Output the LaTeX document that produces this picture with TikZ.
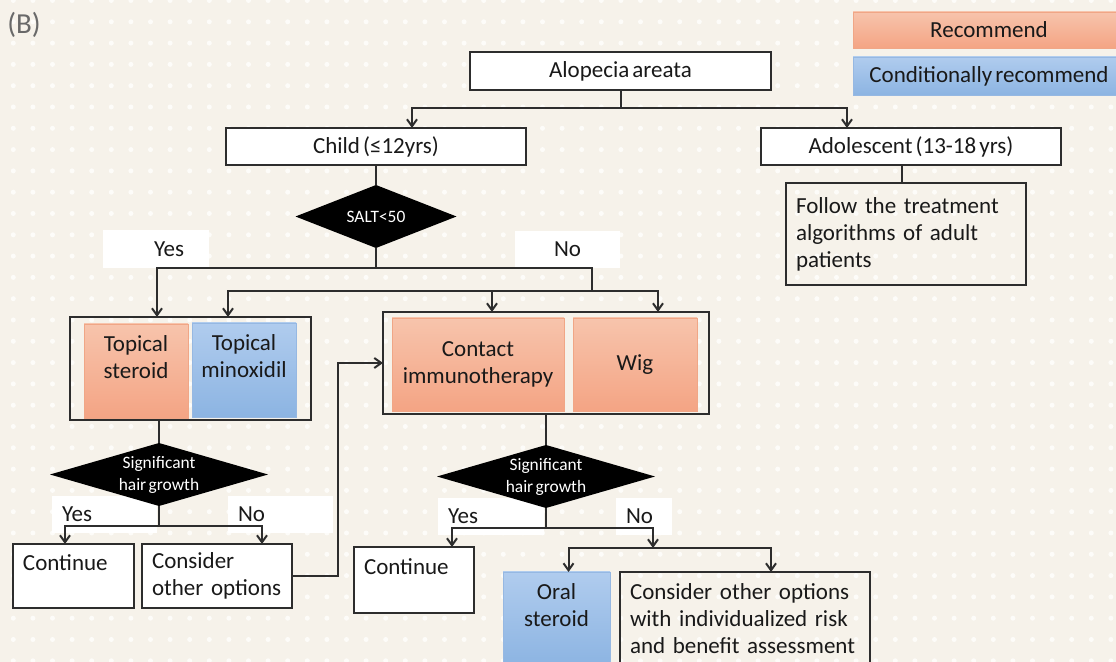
\documentclass[tikz,border=0pt]{standalone}
\usepackage{fontspec}
\setmainfont{Carlito}[WordSpace=0.6]
\usepackage{tikz}
\usetikzlibrary{calc, arrows.meta}

\definecolor{bgCream}{RGB}{246,242,234}
\definecolor{dotWhite}{RGB}{253,252,249}
\definecolor{lineGray}{RGB}{45,45,45}
\definecolor{textDark}{RGB}{25,25,25}
\definecolor{recTop}{RGB}{247,196,172}
\definecolor{recBottom}{RGB}{244,164,132}
\definecolor{recEdge}{RGB}{240,166,134}
\definecolor{condTop}{RGB}{176,204,238}
\definecolor{condBottom}{RGB}{140,180,226}
\definecolor{condEdge}{RGB}{150,184,226}
\definecolor{labelGray}{RGB}{105,105,105}

\tikzset{
	sz/.style 2 args={minimum width=#1*0.5pt, minimum height=#2*0.5pt},
	box/.style={draw=lineGray, line width=0.9pt, fill=white, inner sep=0pt, outer sep=0pt, align=center},
	frame/.style={draw=lineGray, line width=0.9pt, inner sep=0pt, outer sep=0pt},
	lft/.style={align=left, inner xsep=5pt, inner ysep=0pt},
	recommend/.style={top color=recTop, bottom color=recBottom, draw=recEdge, line width=0.4pt, inner sep=0pt, outer sep=0pt, align=center},
	conditional/.style={top color=condTop, bottom color=condBottom, draw=condEdge, line width=0.4pt, inner sep=0pt, outer sep=0pt, align=center},
	tag/.style={fill=white, inner sep=0pt, outer sep=0pt},
	decision/.style={inner sep=0pt, outer sep=0pt, text=white, align=center, font=\fontsize{8.7}{11}\selectfont,
		path picture={\fill[black] (path picture bounding box.north) -- (path picture bounding box.east) -- (path picture bounding box.south) -- (path picture bounding box.west) -- cycle;}},
	line/.style={draw=lineGray, line width=1pt},
	arr/.style={line, -{Straight Barb[length=3.5pt, width=5pt]}}
}

\begin{document}
\begin{tikzpicture}[x=0.5pt, y=-0.5pt, font=\fontsize{11.5}{13.5}\selectfont, text=textDark]

			\def\bgW{1116}
			\def\bgH{662}

			\useasboundingbox (0,0) rectangle (\bgW,\bgH);
			\clip (0,0) rectangle (\bgW,\bgH);
			\fill[bgCream] (0,0) rectangle (\bgW,\bgH);
			\foreach \i in {0,...,56}
				\foreach \j in {0,...,31}
					\fill[dotWhite] (13.3+19.6*\i, 0.5+21.3*\j) circle (2.5);

			\node[text=labelGray, font=\fontsize{14.5}{16}\selectfont, anchor=west, inner sep=0pt] (panel) at (7,25) {(B)};

			\node[recommend, sz={272}{36}] (rec) at (989,30) {Recommend};
			\node[conditional, sz={272}{38}] (cond) at (989,76) {Conditionally recommend};

			% answer tags
			\node[tag, sz={106}{38}] (yesA) at (156,249) {\hspace*{13pt}Yes};
			\node[tag, sz={105}{37}] (noA) at (567.5,249.5) {No};
			\node[tag, lft, sz={105}{37}, text width=42.5pt] (yesB) at (104.5,514.5) {Yes};
			\node[tag, lft, sz={105}{37}, text width=42.5pt] (noB) at (280.5,514.5) {No};
			\node[tag, lft, sz={106}{37}, text width=43pt] (yesC) at (491,516.5) {Yes};
			\node[tag, lft, sz={56}{37}, text width=18pt] (noC) at (644,516.5) {No};

			\node[box, sz={301}{38}] (alopecia) at (620.5,71) {Alopecia areata};
			\node[box, sz={300}{37}] (child) at (376,146.5) {Child (≤12yrs)};
			\node[box, sz={300}{37}] (adol) at (911,146.5) {Adolescent (13-18 yrs)};
			\node[frame, lft, sz={240}{102}, text width=110pt] (follow) at (906,234) {Follow the treatment\\algorithms of adult\\patients};
			\node[decision, sz={161}{63}] (salt) at (376,216.5) {SALT<50};

			\node[frame, sz={241}{103}] (lgroup) at (190.5,368.5) {};
			\node[recommend, sz={104}{94}] (tsteroid) at (136,371) {Topical\\steroid\\\mbox{}};
			\node[conditional, sz={104}{94}] (tminox) at (244,370) {Topical\\minoxidil\\\mbox{}};
			\node[frame, sz={326}{102}] (rgroup) at (546,363) {};
			\node[recommend, sz={172}{93}] (contact) at (478,364.5) {Contact\\immunotherapy};
			\node[recommend, sz={124}{93}] (wig) at (635,364.5) {Wig};

			\node[decision, sz={218}{63}] (lsig) at (159,474.5) {Significant\\hair growth};
			\node[box, lft, sz={121}{64}, text width=50.5pt] (contA) at (73.5,576) {Continue\\\mbox{}};
			\node[box, lft, sz={150}{64}, text width=65pt] (consA) at (217,576) {Consider\\other options};

			\node[decision, sz={218}{63}] (rsig) at (546,476.5) {Significant\\hair growth};
			\node[box, lft, sz={120}{66}, text width=50pt] (contB) at (414,580) {Continue\\\mbox{}};
			\node[conditional, sz={107}{94}] (oral) at (556.5,619) {Oral\\steroid\\\mbox{}};
			\node[frame, lft, sz={250}{94}, text width=115pt] (consB) at (745,619) {Consider other options\\with individualized risk\\and benefit assessment};

			% connectors
			\coordinate (topSplit) at ($(alopecia.south)+(0,18)$);
			\draw[line] (alopecia.south) -- (topSplit);
			\draw[arr] (topSplit) -| ($(child.north)+(36,0)$);
			\draw[arr] (topSplit) -| ($(adol.north)+(-64,0)$);
			\coordinate (adolDrop) at ($(adol.south)+(-9,0)$);
			\draw[line] (adolDrop) -- (adolDrop |- follow.north);

			\draw[line] (child.south) -- (salt.north);
			\coordinate (saltSplit) at ($(salt.south)+(0,20)$);
			\coordinate (noSplit) at ($(saltSplit)+(216,23)$);
			\draw[arr] (salt.south) -- (saltSplit) -| ($(lgroup.north)+(-33.5,0)$);
			\draw[line] (saltSplit) -| (noSplit);
			\draw[arr] (noSplit) -| ($(lgroup.north)+(37.5,0)$);
			\draw[arr] (noSplit) -| ($(rgroup.north)+(-54,0)$);
			\draw[arr] (noSplit) -| ($(rgroup.north)+(112,0)$);

			\draw[line] (lsig.north |- lgroup.south) -- (lsig.north);
			\coordinate (lsigSplit) at ($(lsig.south)+(0,20)$);
			\draw[arr] (lsig.south) -- (lsigSplit) -| ($(contA.north)+(-8.5,0)$);
			\draw[arr] (lsigSplit) -| ($(consA.north)+(45,0)$);
			\draw[arr] (consA.east) -- ++(46,0) |- (rgroup.west);

			\draw[line] (rgroup.south) -- (rsig.north);
			\coordinate (rsigSplit) at ($(rsig.south)+(0,20)$);
			\coordinate (oralBar) at ($(rsigSplit)+(107,20)$);
			\draw[arr] (rsig.south) -- (rsigSplit) -| ($(contB.north)+(38,0)$);
			\draw[arr] (rsigSplit) -| (oralBar);
			\draw[arr] (oralBar) -| ($(oral.north)+(12,0)$);
			\draw[arr] (oralBar) -| ($(consB.north)+(26,0)$);

\end{tikzpicture}
\end{document}
